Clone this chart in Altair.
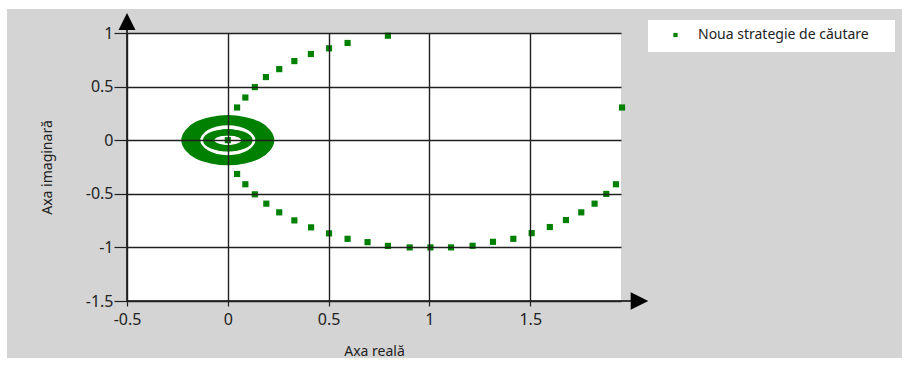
import altair as alt
import pandas as pd

# Points of the search trajectory on the large circle (real part, imaginary part)
arc_re = [0.046, 0.087, 0.134, 0.189, 0.255, 0.330, 0.412, 0.502, 0.594, 0.794,
          0.046, 0.087, 0.134, 0.191, 0.255, 0.330, 0.413, 0.502, 0.594, 0.693,
          0.794, 0.902, 1.005, 1.107, 1.214, 1.315, 1.416, 1.507, 1.597, 1.677,
          1.753, 1.819, 1.877, 1.925, 1.955]
arc_im = [0.305, 0.398, 0.495, 0.589, 0.663, 0.738, 0.804, 0.857, 0.907, 0.975,
          -0.315, -0.411, -0.505, -0.592, -0.673, -0.748, -0.813, -0.869, -0.920, -0.951,
          -0.986, -1.000, -1.000, -1.000, -0.985, -0.948, -0.920, -0.867, -0.810, -0.745,
          -0.673, -0.592, -0.501, -0.411, 0.305]

# Dense rings of points around the origin, one closed loop per ring
ring_re = [
    0.216, 0.153, 0.0, -0.153, -0.216, -0.153, 0.0, 0.153,
    0.195, 0.138, 0.0, -0.138, -0.195, -0.138, 0.0, 0.138,
    0.172, 0.122, 0.0, -0.122, -0.172, -0.122, 0.0, 0.122,
    0.152, 0.107, 0.0, -0.107, -0.152, -0.107, 0.0, 0.107,
    0.108, 0.076, 0.0, -0.076, -0.108, -0.076, 0.0, 0.076,
    0.095, 0.067, 0.0, -0.067, -0.095, -0.067, 0.0, 0.067,
    0.082, 0.058, 0.0, -0.058, -0.082, -0.058, 0.0, 0.058,
]
ring_im = [
    0.0, 0.146, 0.206, 0.146, 0.0, -0.146, -0.206, -0.146,
    0.0, 0.139, 0.196, 0.139, 0.0, -0.139, -0.196, -0.139,
    0.0, 0.132, 0.186, 0.132, 0.0, -0.132, -0.186, -0.132,
    0.0, 0.119, 0.168, 0.119, 0.0, -0.119, -0.168, -0.119,
    0.0, 0.053, 0.075, 0.053, 0.0, -0.053, -0.075, -0.053,
    0.0, 0.053, 0.075, 0.053, 0.0, -0.053, -0.075, -0.053,
    0.0, 0.053, 0.075, 0.053, 0.0, -0.053, -0.075, -0.053,
]
ring_size = 8

center_re = [0.0]
center_im = [0.0]

x_ticks = [-0.5, 0, 0.5, 1, 1.5]
y_ticks = [-1.5, -1, -0.5, 0, 0.5, 1]

GREEN = "#008000"
INK = "#202020"
FONT = "Noto Sans"
W, H = 494, 268

arc_df = pd.DataFrame({"re": arc_re, "im": arc_im})
ring_df = pd.DataFrame({
    "re": ring_re,
    "im": ring_im,
    "loop": [i // ring_size for i in range(len(ring_re))],
    "k": [i % ring_size for i in range(len(ring_re))],
})
center_df = pd.DataFrame({"re": center_re, "im": center_im})
one = pd.DataFrame({"a": [0]})

# plain ASCII hyphen for negative tick labels
plain_label = "'' + datum.value"

x_enc = alt.X("re:Q", scale=alt.Scale(domain=[-0.5, 1.95], nice=False, zero=False),
              axis=alt.Axis(values=x_ticks, title="Axa reală", labelExpr=plain_label, zindex=2))
y_enc = alt.Y("im:Q", scale=alt.Scale(domain=[-1.5, 1], nice=False, zero=False),
              axis=alt.Axis(values=y_ticks, title="Axa imaginară", labelExpr=plain_label, zindex=2))

base = alt.Chart(one)

panel = base.mark_rect(color="#d4d4d4").encode(
    x=alt.value(-120), x2=alt.value(775), y=alt.value(-24), y2=alt.value(325))
plot_bg = base.mark_rect(color="white").encode(
    x=alt.value(0), x2=alt.value(W), y=alt.value(0), y2=alt.value(H))

rings = alt.Chart(ring_df).mark_line(
    color=GREEN, strokeWidth=6, interpolate="cardinal-closed"
).encode(x=x_enc, y=y_enc, detail="loop:N", order="k:Q")

arc = alt.Chart(arc_df).mark_square(color=GREEN, size=38, opacity=1).encode(x=x_enc, y=y_enc)
center = alt.Chart(center_df).mark_square(color=GREEN, size=38, opacity=1).encode(x=x_enc, y=y_enc)

x_line = base.mark_rule(color="black", strokeWidth=1.5).encode(
    x=alt.value(0), x2=alt.value(504), y=alt.value(H))
y_line = base.mark_rule(color="black", strokeWidth=1.5).encode(
    x=alt.value(0), y=alt.value(-4), y2=alt.value(H))
arrow_right = base.mark_point(shape="M -1 -1 L 1 0 L -1 1 Z", filled=True, color="black",
                              opacity=1, size=310).encode(x=alt.value(512.5), y=alt.value(H))
arrow_up = base.mark_point(shape="M 0 -1 L 1 1 L -1 1 Z", filled=True, color="black",
                           opacity=1, size=290).encode(x=alt.value(0), y=alt.value(-11.5))

legend_box = base.mark_rect(color="white").encode(
    x=alt.value(521), x2=alt.value(768), y=alt.value(-13), y2=alt.value(19))
legend_mark = base.mark_square(color=GREEN, size=18, opacity=1).encode(
    x=alt.value(548.5), y=alt.value(2))
legend_text = base.mark_text(align="left", baseline="middle", font=FONT, fontSize=14,
                             color="#222222").encode(
    x=alt.value(571), y=alt.value(2), text=alt.value("Noua strategie de căutare"))

chart = alt.layer(
    panel, plot_bg, rings, arc, center, x_line, y_line, arrow_right, arrow_up,
    legend_box, legend_mark, legend_text
).properties(
    width=W, height=H,
    padding={"left": 127, "top": 33, "right": 281, "bottom": 66},
    autosize=alt.AutoSizeParams(type="none"),
    background="white",
).configure_view(stroke=None).configure_axis(
    grid=True, gridColor=INK, gridWidth=1.4, gridOpacity=1,
    domain=False, tickColor=INK, tickWidth=1.2,
    labelFont=FONT, labelFontSize=16, labelColor="#222222",
    titleFont=FONT, titleFontSize=14, titleFontWeight="normal", titleColor="#222222",
    labelOverlap=False, labelBound=False, labelFlush=False,
).configure_axisX(
    tickSize=5, labelPadding=5, titleY=50, titleBaseline="middle",
).configure_axisY(
    tickSize=13, labelPadding=1, titleX=-80, titleY=134, titleBaseline="middle",
    titleAlign="center", titleAngle=270,
)

chart.save("out.html", embed_options={"renderer": "svg", "actions": False})
